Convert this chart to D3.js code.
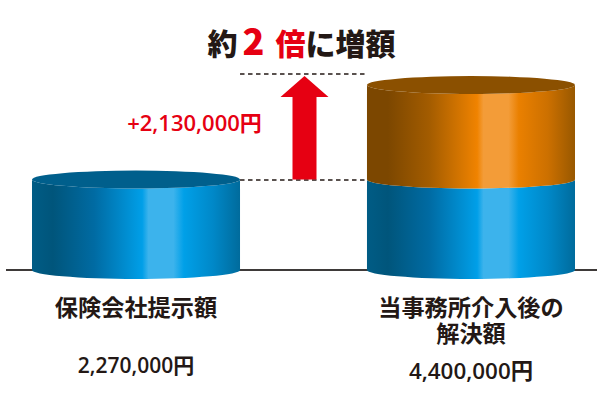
<!DOCTYPE html>
<html>

<head>
    <meta charset="utf-8">
    <title>解決額</title>
    <style>
        html, body { margin: 0; padding: 0; background: #fff; }
        svg { display: block; }
        text { font-family: "Noto Sans CJK JP", sans-serif; text-anchor: middle; }
        .num { font-family: "Open Sans", "Noto Sans CJK JP", sans-serif; font-weight: 600; }
    </style>
    <script src="https://cdnjs.cloudflare.com/ajax/libs/d3/7.8.5/d3.min.js"></script>
</head>

<body>
    <svg class="chart"></svg>
    <script>
        const categories = ["保険会社提示額", "当事務所介入後の解決額"]
        const categoryLines = [["保険会社提示額"], ["当事務所介入後の", "解決額"]]
        const baseValues = [2270000, 2270000]
        const addedValues = [0, 2130000]
        const totalLabels = ["2,270,000円", "4,400,000円"]
        const diffLabel = "+2,130,000円"
        const blueStops = [[0, "#005c85"], [0.1, "#00557b"], [0.3, "#006ba3"], [0.53, "#009fe8"], [0.56, "#3cb3ec"], [0.68, "#3cb3ec"], [0.73, "#00a0e8"], [0.87, "#0088c8"], [1, "#006b9c"]]
        const orangeStops = [[0, "#7c4700"], [0.1, "#7c4700"], [0.3, "#a35c00"], [0.53, "#f08300"], [0.56, "#f39c38"], [0.68, "#f39c38"], [0.73, "#ea8000"], [0.87, "#cc7000"], [1, "#985800"]]

        const width = 600, height = 400
        const ry = 9
        const red = "#e60012", ink = "#231815"

        const svg = d3.select(".chart").attr("width", width).attr("height", height)

        const x = d3.scaleBand().domain(categories).range([32, 575]).paddingInner(0.379)
        // the picture is not drawn to a strict linear scale, so the axis has a middle knot
        const y = d3.scaleLinear().domain([0, 2270000, 4400000]).range([270, 179.5, 85])

        const defs = svg.append("defs")
        function gradient(id, stops) {
            defs.append("linearGradient").attr("id", id)
                .selectAll("stop").data(stops).enter().append("stop")
                .attr("offset", d => d[0]).attr("stop-color", d => d[1])
        }
        gradient("blue", blueStops)
        gradient("orange", orangeStops)

        function barrel(cat, v0, v1, fill) {
            const rx = x.bandwidth() / 2, x0 = x(cat), x1 = x0 + x.bandwidth()
            svg.append("path")
                .attr("d", `M${x0},${y(v1)}L${x0},${y(v0)}A${rx},${ry} 0 0 0 ${x1},${y(v0)}L${x1},${y(v1)}A${rx},${ry} 0 0 1 ${x0},${y(v1)}Z`)
                .attr("fill", fill)
        }
        function lid(cat, v, fill) {
            svg.append("ellipse")
                .attr("cx", x(cat) + x.bandwidth() / 2).attr("cy", y(v))
                .attr("rx", x.bandwidth() / 2).attr("ry", ry).attr("fill", fill)
        }

        // baseline
        svg.append("line").attr("x1", 6).attr("x2", 597).attr("y1", y(0)).attr("y2", y(0))
            .attr("stroke", "#3e3a39").attr("stroke-width", 2)

        categories.forEach((c, i) => {
            const total = baseValues[i] + addedValues[i]
            const cx = x(c) + x.bandwidth() / 2
            barrel(c, 0, baseValues[i], "url(#blue)")
            if (addedValues[i] > 0) barrel(c, baseValues[i], total, "url(#orange)")
            lid(c, total, addedValues[i] > 0 ? "#8b5000" : "#005f8c")

            const label = svg.append("text").attr("y", 316)
                .attr("font-size", 23.2).attr("font-weight", 700).attr("fill", ink)
            categoryLines[i].forEach((t, j) => {
                label.append("tspan").attr("x", cx).attr("dy", j == 0 ? 0 : 26).text(t)
            })
            svg.append("text").attr("class", "num")
                .attr("x", cx).attr("y", i == 0 ? 373 : 378.5)
                .attr("font-size", i == 0 ? 21 : 22.4).attr("fill", ink).text(totalLabels[i])
        })

        // dashed guides and the arrow between the two heights
        const guideL = x(categories[0]) + x.bandwidth(), guideR = x(categories[1])
        const topY = y(baseValues[1] + addedValues[1]) - ry
        const midY = y(baseValues[0])
        svg.append("line").attr("x1", guideL).attr("x2", guideR + 1).attr("y1", topY - 2).attr("y2", topY - 2)
            .attr("stroke", ink).attr("stroke-width", 1.6).attr("stroke-dasharray", "4.5 3.5")
        svg.append("line").attr("x1", guideL).attr("x2", guideR).attr("y1", midY + 0.5).attr("y2", midY + 0.5)
            .attr("stroke", ink).attr("stroke-width", 1.6).attr("stroke-dasharray", "4.5 3.5")

        const ax = (guideL + guideR) / 2 + 1
        svg.append("path")
            .attr("d", d3.line()([[ax, topY], [ax + 24, topY + 21], [ax + 12, topY + 21], [ax + 12, midY], [ax - 12, midY], [ax - 12, topY + 21], [ax - 24, topY + 21]]) + "Z")
            .attr("fill", red)

        svg.append("text").attr("class", "num").attr("x", 194.5).attr("y", 130.5)
            .attr("font-size", 22).attr("fill", red).text(diffLabel)

        // headline
        const head = svg.append("text").attr("x", 301.5).attr("y", 55)
            .attr("font-size", 30).attr("font-weight", 900).attr("fill", ink)
        head.append("tspan").text("約")
        head.append("tspan").attr("fill", red).attr("dx", 5).attr("font-size", 36).text("2")
        head.append("tspan").attr("fill", red).attr("dx", 11).text("倍")
        head.append("tspan").text("に増額")
    </script>
</body>

</html>
